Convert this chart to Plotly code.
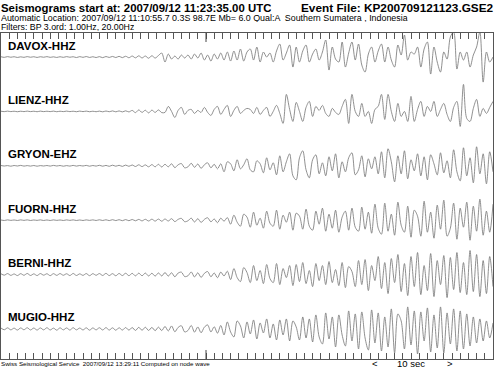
import numpy as np
import plotly.graph_objects as go

# ---------------- data (amplitudes in screen-pixel units, up = positive) -------------
stations = ["DAVOX-HHZ", "LIENZ-HHZ", "GRYON-EHZ", "FUORN-HHZ", "BERNI-HHZ", "MUGIO-HHZ"]
sample_dt = 0.4  # seconds between read-off samples (151 samples -> 60 s)

davox = [0.3, -0.3, 0.4, -0.2, 0.3, -0.4, 0.2, -0.3, 0.4, -0.2,
         0.3, -0.4, 0.3, -0.2, 0.4, -0.3, 0.2, -0.4, 0.3, -0.3,
         0.4, -0.2, 0.3, -0.5, 0.4, -0.3, 0.5, -0.4, 0.3, -0.5,
         0.4, -0.6, 0.5, -0.4, 0.6, -0.5, 0.7, -0.6, 0.8, -0.7,
         1.0, -0.8, 1.2, -0.9, 1.0, -1.2, 1.3, -1.0, 1.5,
         4, -5, 3, -2, 1, -2, 2, -1, 2, -2, 3, -1,
         4, -3, 2, -4, 3, -2, 4, -3, 5, -4, 6, -3, 8, -4, 5,
         8, -3, 10, -5, 5, 0, 4, -5, 6, 13,
         -3, 4, 12, -10, 10, -5, 6, 12, -5, 3,
         8, -3, 5, 17, -13, 10, -2, -5, 15, -10,
         4, 15, -3, 13, -8, -15, 3, 10, -5, 6,
         13, -5, 10, -3, -10, 12, 2, 22, -3, 5,
         3, 10, -10, 8, 15, -17, 10, -5, -15, 5,
         -2, 20, 25, -12, 5, -3, 5, -10, 2, 10,
         25, -25, 5, -5, 0]

lienz = [0.2, -0.2, 0.3, -0.2, 0.2, -0.3, 0.2, -0.2, 0.3, -0.2,
         0.2, -0.3, 0.3, -0.2, 0.2, -0.2, 0.3, -0.3, 0.2, -0.2,
         0.3, -0.2, 0.2, -0.3, 0.3, -0.2, 0.3, -0.3, 0.2, -0.3,
         0.3, -0.4, 0.4, -0.3, 0.5, -0.4, 0.5, -0.5, 0.6, -0.5,
         1.0, -1.2, 1.5, -1.0, 1.2, -1.5, 1.3, -1.0, 1.5, -1.2,
         -1, 5, 0, -6, 1, 4, -3, 1, 2, -2,
         1, -1, 4, -1, -4, 2, 5, -3, 2, 6,
         -5, 1, 5, -2, 1, 3,
         2, -2, 4, -3, 1, 4, -5, 0, 6, -2,
         -12, 17, 2, -10, 9, 0, -10, 4, 10, -5,
         5, 1, 6, -2, -5, 3, -1, -3, 5, 12,
         -12, 17, 0, -5, 8, -5, 0, -12, 2, 5,
         17, -8, 17, 0, -10, 8, -5, 0, -10, 15,
         -10, 2, 10, -5, 5, 0, 10, -5, 2, 8,
         -3, -10, 4, 10, -15, 27, -7, -10, 3, 12,
         -5, 3, -2, 4, 10]

gryon = [0.3, -0.2, 0.2, -0.4, 0.3, -0.2, 0.4, -0.3, 0.2, -0.3,
         0.3, -0.4, 0.2, -0.2, 0.3, -0.3, 0.4, -0.2, 0.3, -0.4,
         0.2, -0.3, 0.4, -0.3, 0.3, -0.2, 0.4, -0.4, 0.3, -0.3,
         0.5, -0.4, 0.4, -0.5, 0.6, -0.4, 0.5, -0.6, 0.7, -0.5,
         0.8, -0.7, 1.0, -0.8, 0.9, -1.0, 1.2, -1.0, 1.5, -1.2,
         1.5, -1.0, 2.0, -1.8, 1.0, 2.2, -2.0, -1.0, 2.5, -1.5,
         1.8, -2.5, 1.0, 3.0, -2.0, 1.5, -3.0, 2.0,
         -6, 4, 2, -5, 6, -3, 1, 7, -4, -6,
         5, 2, -7, 8, -4, 3, -9, 10,
         -6, 4, 12, -10, -14, 8, 15, -4, -12, 6,
         11, -8, 3, -10, 9, -5, 12, -12, 4, -6,
         8, 13, -9, -4, 10, -11, 7, -3, 9, -8,
         14, -12, 17, 4, -16, 10, -8, 15, -13, 6,
         -5, 12, -10, 9, -14, 11, 2, -9, 13, -7,
         5, -12, 16, -6, -15, 18, -10, 8, -17, 19,
         -8, 12, -18, 14, -6]

fuorn = [0.2, -0.3, 0.3, -0.2, 0.2, -0.3, 0.3, -0.2, 0.3, -0.3,
         0.2, -0.2, 0.3, -0.3, 0.2, -0.3, 0.3, -0.2, 0.2, -0.3,
         0.3, -0.2, 0.3, -0.3, 0.2, -0.3, 0.3, -0.2, 0.3, -0.3,
         0.4, -0.3, 0.4, -0.4, 0.5, -0.4, 0.5, -0.5, 0.6, -0.5,
         0.7, -0.6, 0.8, -0.7, 0.9, -0.8, 1.0, -0.9, 1.1, -1.0,
         1.2, -0.8, 1.5, -1.4, 0.8, 1.8, -1.5, -0.6, 2.0, -1.8,
         1.5, -2.2, 0.8, 2.4, -1.6, 1.2, -2.5, 2.0, -1.0, 2.6,
         -4, 5, -2, -6, 6, 3, -7, 8, -5, 2,
         -8, 9, -3, -6, 10, -9, 5, -2, 8, -10,
         7, 4, -9, 11, -6, -10, 9, -4, 12, -11,
         6, -8, 10, -12, 3, 9, -10, 12, -7, -11,
         13, -9, 8, -13, 16, -8, -14, 17, -11, 6,
         -15, 18, -5, -12, 14, -17, 10, 4, -16, 19,
         -12, 8, -18, 15, -9, 20, -16, -8, 17, -19,
         12, -7, 18, -20, 14, -11, 21, -15, 9, -12,
         16]

berni = [0.8, -0.6, 1.0, -0.8, 0.6, -1.0, 0.9, -0.7, 1.1, -0.9,
         0.7, -1.0, 1.0, -0.6, 0.8, -1.1, 0.9, -0.8, 1.0, -0.7,
         0.8, -1.0, 1.1, -0.9, 0.7, -0.8, 1.0, -1.1, 0.9, -0.7,
         1.0, -0.9, 1.2, -1.0, 0.9, -1.2, 1.1, -1.0, 1.3, -1.1,
         1.2, -1.3, 1.4, -1.2, 1.5, -1.4, 1.3, -1.5, 1.6, -1.4,
         2.0, -1.5, 1.8, -2.2, 1.5, 2.4, -2.0, -1.2, 2.6, -2.4,
         1.8, -2.8, 1.2, 3.0, -2.2, 1.6, -3.2, 2.5, -1.4, 3.4,
         -5, 6, -3, -7, 7, 2, -8, 9, -6, 4,
         -9, 10, -4, -8, 11, -10, 6, -3, 9, -11,
         10, -7, 12, -9, 4, -12, 11, -6, 9, -10,
         13, -8, 5, -11, 12, -13, 8, 3, -12, 14,
         -10, 15, -16, 9, -6, 18, -14, 12, -19, 16,
         -8, 20, -17, 11, -21, 18, -12, 22, -20, 9,
         -16, 21, -22, 14, -10, 19, -23, 17, -15, 22,
         -18, 12, -20, 24, -17, 20, -22, 14, -19, 18,
         -12]

mugio = [0.9, -0.8, 1.1, -0.9, 0.8, -1.1, 1.0, -0.8, 1.2, -1.0,
         0.9, -1.1, 1.0, -0.9, 1.2, -1.0, 0.8, -1.2, 1.1, -0.9,
         1.0, -1.1, 1.2, -0.9, 0.9, -1.0, 1.1, -1.2, 1.0, -0.9,
         1.2, -1.0, 1.3, -1.1, 1.1, -1.3, 1.2, -1.1, 1.4, -1.2,
         1.4, -1.5, 1.6, -1.3, 1.7, -1.5, 1.5, -1.7, 1.8, -1.6,
         2.5, -2.0, 3.0, -2.8, 1.5, 3.2, -3.0, -1.5, 3.5, -3.2,
         2.0, -3.8, 1.8, 4.0, -3.0, 2.2, -4.2, 3.5,
         -6, 7, -3, -8, 8, 3, -9, 7, -5, 9,
         -10, 6, -4, 10, -9, 5, -11, 9,
         -6, 10, -12, 8, 2, -11, 12, -9, 10, -13,
         14, -8, -15, 16, -10, 12, -18, 14, -6, -17,
         18, -12, 15, -20, 17, -9, -21, 19, -14, 16,
         -22, 12, -18, 20, -24, 15, 8, -20, 22, -16,
         18, -25, 17, -12, 21, -23, 14, -19, 22, -24,
         16, -15, 20, -22, 18, -20, 15, -17, 12, -14,
         10, -12, 8, -9, 6]

seismograms = [davox, lienz, gryon, fuorn, berni, mugio]

title_left = "Seismograms start at: 2007/09/12 11:23:35.00 UTC"
title_right = "Event File: KP200709121123.GSE2"
line_location = ("Automatic Location: 2007/09/12 11:10:55.7 0.3S 98.7E Mb= 6.0 Qual:A"
                 "  Southern Sumatera , Indonesia")
line_filters = "Filters: BP 3.ord: 1.00Hz, 20.00Hz"
footer = "Swiss Seismological Service  2007/09/12 13:29:11 Computed on node wave"
scale_label = "10 sec"
minute_mark = 25.0   # 11:24:00 relative to start
t_end = 60.0

# ---------------- figure -------------
FONT = "Liberation Sans, Arial, Helvetica, sans-serif"
W, H = 496, 368
ML, MR, MT, MB = 1, 3, 33, 9
ROW = 54.3
TOP = 24.0
BOTTOM = -5 * ROW - 30.0
PLOT_H = H - MT - MB
PLOT_W = W - ML - MR


def ypx(py):
    """screen pixel y (from top) -> paper coordinate"""
    return (H - MB - py) / PLOT_H


def xpx(px):
    """screen pixel x -> paper coordinate"""
    return (px - ML) / PLOT_W


fig = go.Figure()
for k, (name, vals) in enumerate(zip(stations, seismograms)):
    t = np.arange(len(vals)) * sample_dt
    base = -k * ROW
    fig.add_trace(go.Scatter(
        x=t, y=np.array(vals, dtype=float) + base, mode="lines",
        line=dict(color="#7c7c7c", width=0.85, shape="spline", smoothing=0.9),
        hoverinfo="skip", showlegend=False))
    fig.add_annotation(x=0.55, y=base + 11.5, text=f"<b>{name}</b>", showarrow=False,
                       xanchor="left", yanchor="middle",
                       font=dict(family=FONT, size=11.5, color="black"))

# longer tick at the full minute
fig.add_shape(type="line", x0=minute_mark, x1=minute_mark, y0=TOP, y1=TOP - 9,
              line=dict(color="#444", width=1))
fig.add_shape(type="line", x0=minute_mark, x1=minute_mark, y0=BOTTOM, y1=BOTTOM + 9,
              line=dict(color="#444", width=1))

hdr = dict(xref="paper", yref="paper", showarrow=False, borderpad=0)
fig.add_annotation(x=xpx(0), y=ypx(0), xanchor="left", yanchor="top", height=13,
                   text=f"<b>{title_left}</b>",
                   font=dict(family=FONT, size=11.4, color="black"), **hdr)
fig.add_annotation(x=xpx(495), y=ypx(0), xanchor="right", yanchor="top", height=13,
                   text=f"<b>{title_right}</b>",
                   font=dict(family=FONT, size=11.8, color="black"), **hdr)
fig.add_annotation(x=xpx(0), y=ypx(17.5), xanchor="left", yanchor="middle", height=9,
                   text=line_location,
                   font=dict(family=FONT, size=8.9, color="black"), **hdr)
fig.add_annotation(x=xpx(0), y=ypx(26.5), xanchor="left", yanchor="middle", height=9,
                   text=line_filters,
                   font=dict(family=FONT, size=8.8, color="black"), **hdr)
fig.add_annotation(x=xpx(0), y=ypx(364), xanchor="left", yanchor="middle",
                   text=footer,
                   font=dict(family=FONT, size=6.2, color="black"), **hdr)
fig.add_annotation(x=xpx(411), y=ypx(364), xanchor="center", yanchor="middle",
                   text=scale_label,
                   font=dict(family=FONT, size=9.5, color="black"), **hdr)
fig.add_annotation(x=xpx(371), y=ypx(364), xanchor="left", yanchor="middle",
                   text="&lt;", font=dict(family=FONT, size=9.5, color="black"), **hdr)
fig.add_annotation(x=xpx(454), y=ypx(364), xanchor="right", yanchor="middle",
                   text="&gt;", font=dict(family=FONT, size=9.5, color="black"), **hdr)

fig.update_layout(
    width=W, height=H,
    margin=dict(l=ML, r=MR, t=MT, b=MB, pad=0),
    paper_bgcolor="white", plot_bgcolor="white",
    xaxis=dict(range=[0, t_end], showgrid=False, zeroline=False, showline=True,
               linecolor="#555", linewidth=1, mirror="ticks", ticks="inside",
               ticklen=6, tickcolor="#555", tickwidth=1, dtick=1, tick0=0,
               showticklabels=False, fixedrange=True),
    yaxis=dict(range=[BOTTOM, TOP], showgrid=False, zeroline=False, showline=True,
               linecolor="#555", linewidth=1, mirror=True, ticks="",
               showticklabels=False, fixedrange=True),
)

fig.write_html("out.html")
